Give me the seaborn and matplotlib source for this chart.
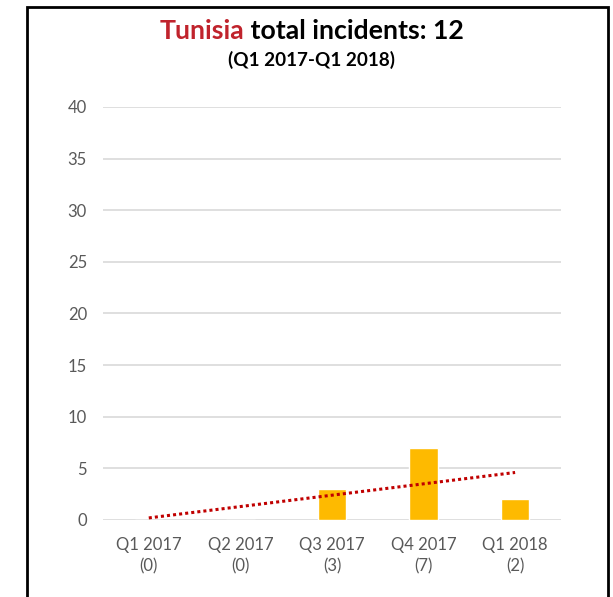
"""Tunisia quarterly incidents bar chart with linear trendline."""

import matplotlib

matplotlib.use("Agg")

import matplotlib.pyplot as plt
import numpy as np
import pandas as pd
import seaborn as sns
from matplotlib.patches import Rectangle

country = "Tunisia"
quarters = ["Q1 2017", "Q2 2017", "Q3 2017", "Q4 2017", "Q1 2018"]
incidents = [0, 0, 3, 7, 2]
y_ticks = [0, 5, 10, 15, 20, 25, 30, 35, 40]

sns.set_theme(style="white")
plt.rcParams["font.family"] = ["Lato", "DejaVu Sans"]

labels = [f"{q}\n({n})" for q, n in zip(quarters, incidents)]
df = pd.DataFrame({"quarter": labels, "incidents": incidents})

fig = plt.figure(figsize=(6.13, 5.97), dpi=100)
ax = fig.add_axes([0.168, 0.129, 0.747, 0.692])

sns.barplot(data=df, x="quarter", y="incidents", color="#FEBA00",
            saturation=1, width=0.31, ax=ax)

# linear trendline like the spreadsheet one
pos = np.arange(len(incidents))
slope, icpt = np.polyfit(pos, incidents, 1)
ax.plot(pos, slope * pos + icpt, color="#C00000", linestyle=(0, (1, 1)),
        linewidth=2.2, zorder=4)

ax.set_ylim(0, 40)
ax.set_yticks(y_ticks)
ax.set_xlim(-0.5, len(quarters) - 0.5)
ax.yaxis.grid(True, color="#D9D9D9", linewidth=1.2)
ax.set_axisbelow(True)
for s in ax.spines.values():
    s.set_visible(False)
ax.set_xlabel("")
ax.set_ylabel("")
ax.tick_params(axis="both", length=0, labelsize=12, labelcolor="#595959")
ax.tick_params(axis="y", pad=11.5)
ax.tick_params(axis="x", pad=12)
for t in ax.get_xticklabels():
    t.set_linespacing(1.4)

# two-colour title
t1 = fig.text(0.5, 0.934, country, color="#C0232C", fontsize=19.2,
              fontweight="bold", ha="left", va="baseline")
t2 = ax.annotate(f" total incidents: {sum(incidents)}", xy=(1, 0), xycoords=t1,
                 color="black", fontsize=19.2, fontweight="bold",
                 ha="left", va="bottom", annotation_clip=False)
fig.canvas.draw()
r = fig.canvas.get_renderer()
b1 = t1.get_window_extent(r)
b2 = t2.get_window_extent(r)
total = b2.x1 - b1.x0
t1.set_x((312 - total / 2) / fig.bbox.width)
fig.text(311.5 / 613, 0.8894, "(Q1 2017-Q1 2018)", color="black", fontsize=13.6,
         fontweight="bold", ha="center", va="baseline")

fig.patches.append(Rectangle((26.5 / 613, -0.05), 581.5 / 613, 1.05 - 7.2 / 597,
                             transform=fig.transFigure, fill=False,
                             edgecolor="black", linewidth=2))

fig.savefig("out.png", dpi=100)
